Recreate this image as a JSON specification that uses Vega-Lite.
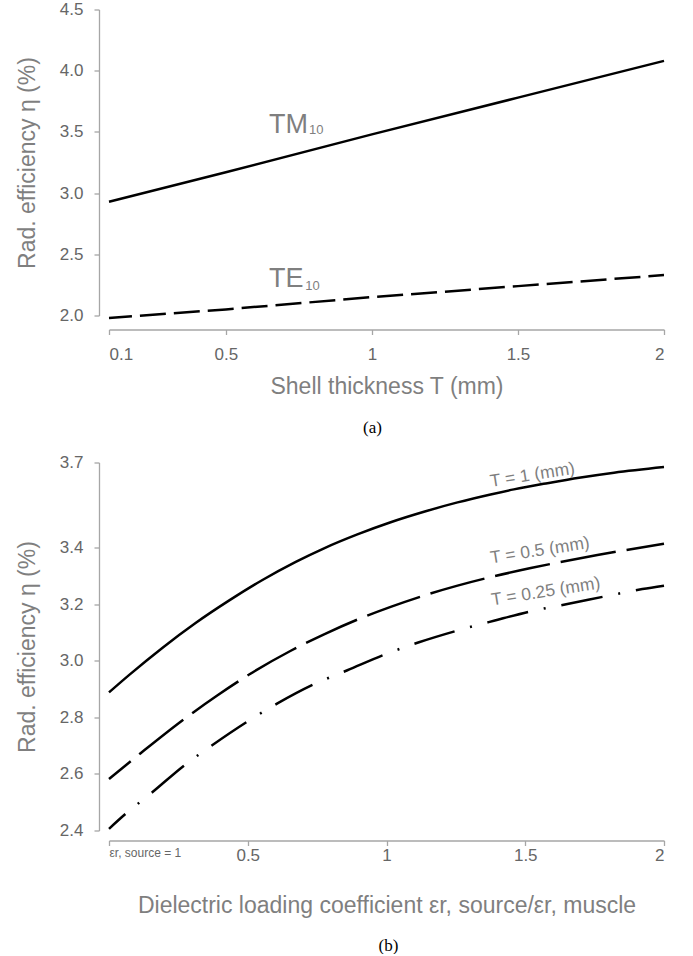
{
  "$schema": "https://vega.github.io/schema/vega-lite/v6.json",
  "background": "white",
  "padding": {"left": 16, "top": 0.5, "right": 10, "bottom": 0},
  "spacing": 18,
  "config": {
    "view": {"stroke": null},
    "font": "Liberation Sans",
    "axis": {
      "grid": false,
      "domainColor": "#a6a6a6",
      "tickColor": "#a6a6a6",
      "domainWidth": 1.3,
      "tickWidth": 1.3,
      "tickSize": 5,
      "labelColor": "#666666",
      "titleColor": "#7f7f7f",
      "labelFont": "Liberation Sans",
      "titleFont": "Liberation Sans",
      "labelFontSize": 17,
      "titleFontSize": 23,
      "titleFontWeight": "normal"
    }
  },
  "datasets": {
    "top": [
      {"T": 0.1, "eta": 2.93, "mode": "TM10"},
      {"T": 0.5, "eta": 3.17, "mode": "TM10"},
      {"T": 1.0, "eta": 3.48, "mode": "TM10"},
      {"T": 1.5, "eta": 3.78, "mode": "TM10"},
      {"T": 2.0, "eta": 4.08, "mode": "TM10"},
      {"T": 0.1, "eta": 1.98, "mode": "TE10"},
      {"T": 0.5, "eta": 2.05, "mode": "TE10"},
      {"T": 1.0, "eta": 2.15, "mode": "TE10"},
      {"T": 1.5, "eta": 2.24, "mode": "TE10"},
      {"T": 2.0, "eta": 2.33, "mode": "TE10"}
    ],
    "topLabels": [
      {"txt": "TM", "x": 0.648, "y": 3.492},
      {"txt": "TE", "x": 0.648, "y": 2.231}
    ],
    "topSubs": [
      {"txt": "10", "x": 0.785, "y": 3.479},
      {"txt": "10", "x": 0.772, "y": 2.209}
    ],
    "bottom": [
      {"k": 0.0, "eta": 2.888, "T": "1"},
      {"k": 0.072, "eta": 2.949, "T": "1"},
      {"k": 0.192, "eta": 3.045, "T": "1"},
      {"k": 0.312, "eta": 3.133, "T": "1"},
      {"k": 0.432, "eta": 3.212, "T": "1"},
      {"k": 0.553, "eta": 3.285, "T": "1"},
      {"k": 0.673, "eta": 3.349, "T": "1"},
      {"k": 0.775, "eta": 3.397, "T": "1"},
      {"k": 0.895, "eta": 3.446, "T": "1"},
      {"k": 1.015, "eta": 3.489, "T": "1"},
      {"k": 1.135, "eta": 3.526, "T": "1"},
      {"k": 1.256, "eta": 3.559, "T": "1"},
      {"k": 1.375, "eta": 3.587, "T": "1"},
      {"k": 1.459, "eta": 3.605, "T": "1"},
      {"k": 1.58, "eta": 3.627, "T": "1"},
      {"k": 1.7, "eta": 3.647, "T": "1"},
      {"k": 1.82, "eta": 3.664, "T": "1"},
      {"k": 2.0, "eta": 3.684, "T": "1"},
      {"k": 0.0, "eta": 2.582, "T": "0.5"},
      {"k": 0.114, "eta": 2.673, "T": "0.5"},
      {"k": 0.27, "eta": 2.793, "T": "0.5"},
      {"k": 0.39, "eta": 2.877, "T": "0.5"},
      {"k": 0.505, "eta": 2.951, "T": "0.5"},
      {"k": 0.655, "eta": 3.035, "T": "0.5"},
      {"k": 0.775, "eta": 3.093, "T": "0.5"},
      {"k": 0.895, "eta": 3.145, "T": "0.5"},
      {"k": 1.015, "eta": 3.19, "T": "0.5"},
      {"k": 1.135, "eta": 3.23, "T": "0.5"},
      {"k": 1.256, "eta": 3.265, "T": "0.5"},
      {"k": 1.375, "eta": 3.295, "T": "0.5"},
      {"k": 1.52, "eta": 3.327, "T": "0.5"},
      {"k": 1.76, "eta": 3.373, "T": "0.5"},
      {"k": 2.0, "eta": 3.413, "T": "0.5"},
      {"k": 0.0, "eta": 2.406, "T": "0.25"},
      {"k": 0.06, "eta": 2.459, "T": "0.25"},
      {"k": 0.156, "eta": 2.535, "T": "0.25"},
      {"k": 0.27, "eta": 2.629, "T": "0.25"},
      {"k": 0.373, "eta": 2.702, "T": "0.25"},
      {"k": 0.499, "eta": 2.785, "T": "0.25"},
      {"k": 0.607, "eta": 2.849, "T": "0.25"},
      {"k": 0.739, "eta": 2.917, "T": "0.25"},
      {"k": 0.859, "eta": 2.966, "T": "0.25"},
      {"k": 0.997, "eta": 3.023, "T": "0.25"},
      {"k": 1.117, "eta": 3.065, "T": "0.25"},
      {"k": 1.261, "eta": 3.108, "T": "0.25"},
      {"k": 1.387, "eta": 3.141, "T": "0.25"},
      {"k": 1.532, "eta": 3.177, "T": "0.25"},
      {"k": 1.652, "eta": 3.2, "T": "0.25"},
      {"k": 1.802, "eta": 3.23, "T": "0.25"},
      {"k": 1.922, "eta": 3.253, "T": "0.25"},
      {"k": 2.0, "eta": 3.265, "T": "0.25"}
    ],
    "bottomLabels": [
      {"txt": "T = 1 (mm)", "k": 1.526, "eta": 3.655},
      {"txt": "T = 0.5 (mm)", "k": 1.553, "eta": 3.388},
      {"txt": "T = 0.25 (mm)", "k": 1.574, "eta": 3.243}
    ]
  },
  "vconcat": [
    {
      "width": 555,
      "height": 306,
      "title": {"text": "(a)", "orient": "bottom", "anchor": "middle", "frame": "group", "font": "Liberation Serif", "fontSize": 17, "fontWeight": "normal", "color": "#000000", "offset": 21, "dx": -14},
      "layer": [
        {
          "data": {"name": "top"},
          "transform": [{"filter": "datum.mode == 'TM10'"}],
          "mark": {"type": "line", "color": "#000000", "strokeWidth": 2.5},
          "encoding": {
            "x": {"field": "T", "type": "quantitative", "scale": {"domain": [0.1, 2], "nice": false, "zero": false},
              "axis": {"values": [0.1, 0.5, 1, 1.5, 2], "format": "~g", "title": "Shell thickness T (mm)", "offset": 14, "labelPadding": 12, "titlePadding": 13}},
            "y": {"field": "eta", "type": "quantitative", "scale": {"domain": [2, 4.5], "nice": false, "zero": false},
              "axis": {"values": [2, 2.5, 3, 3.5, 4, 4.5], "format": ".1f", "title": "Rad. efficiency η (%)", "offset": 10, "labelPadding": 11, "titlePadding": 20}}
          }
        },
        {
          "data": {"name": "top"},
          "transform": [{"filter": "datum.mode == 'TE10'"}],
          "mark": {"type": "line", "color": "#000000", "strokeWidth": 2.5, "strokeDash": [26, 8], "strokeDashOffset": 3},
          "encoding": {
            "x": {"field": "T", "type": "quantitative"},
            "y": {"field": "eta", "type": "quantitative"}
          }
        },
        {
          "data": {"name": "topLabels"},
          "mark": {"type": "text", "align": "left", "baseline": "alphabetic", "fontSize": 27, "color": "#7f7f7f", "font": "Liberation Sans"},
          "encoding": {
            "x": {"field": "x", "type": "quantitative"},
            "y": {"field": "y", "type": "quantitative"},
            "text": {"field": "txt"}
          }
        },
        {
          "data": {"name": "topSubs"},
          "mark": {"type": "text", "align": "left", "baseline": "alphabetic", "fontSize": 13, "color": "#7f7f7f", "font": "Liberation Sans"},
          "encoding": {
            "x": {"field": "x", "type": "quantitative"},
            "y": {"field": "y", "type": "quantitative"},
            "text": {"field": "txt"}
          }
        }
      ]
    },
    {
      "width": 555,
      "height": 368,
      "title": {"text": "(b)", "orient": "bottom", "anchor": "middle", "frame": "group", "font": "Liberation Serif", "fontSize": 17, "fontWeight": "normal", "color": "#000000", "offset": 20, "dx": 2},
      "layer": [
        {
          "data": {"name": "bottom"},
          "transform": [{"filter": "datum.T == '1'"}],
          "mark": {"type": "line", "color": "#000000", "strokeWidth": 2.5, "interpolate": "monotone"},
          "encoding": {
            "x": {"field": "k", "type": "quantitative", "scale": {"domain": [0, 2], "nice": false, "zero": false},
              "axis": {"values": [0, 0.5, 1, 1.5, 2], "format": "~g",
                "labelExpr": "datum.value == 0 ? 'εr, source = 1' : datum.label",
                "labelFontSize": {"condition": {"test": "datum.value == 0", "value": 12}, "value": 17},
                "title": "Dielectric loading coefficient εr, source/εr, muscle", "offset": 10, "labelPadding": 2, "titlePadding": 31}},
            "y": {"field": "eta", "type": "quantitative", "scale": {"domain": [2.4, 3.7], "nice": false, "zero": false},
              "axis": {"values": [2.4, 2.6, 2.8, 3.0, 3.2, 3.4, 3.7], "format": ".1f", "title": "Rad. efficiency η (%)", "offset": 10, "labelPadding": 11, "titlePadding": 20}}
          }
        },
        {
          "data": {"name": "bottom"},
          "transform": [{"filter": "datum.T == '0.5'"}],
          "mark": {"type": "line", "color": "#000000", "strokeWidth": 2.5, "interpolate": "monotone", "strokeDash": [56, 11], "strokeDashOffset": 28},
          "encoding": {
            "x": {"field": "k", "type": "quantitative"},
            "y": {"field": "eta", "type": "quantitative"}
          }
        },
        {
          "data": {"name": "bottom"},
          "transform": [{"filter": "datum.T == '0.25'"}],
          "mark": {"type": "line", "color": "#000000", "strokeWidth": 2.5, "interpolate": "monotone", "strokeDash": [42, 16, 2, 16], "strokeDashOffset": 20},
          "encoding": {
            "x": {"field": "k", "type": "quantitative"},
            "y": {"field": "eta", "type": "quantitative"}
          }
        },
        {
          "data": {"name": "bottomLabels"},
          "mark": {"type": "text", "align": "center", "baseline": "middle", "fontSize": 17.5, "color": "#7f7f7f", "angle": 351, "font": "Liberation Sans"},
          "encoding": {
            "x": {"field": "k", "type": "quantitative"},
            "y": {"field": "eta", "type": "quantitative"},
            "text": {"field": "txt"}
          }
        }
      ]
    }
  ]
}
